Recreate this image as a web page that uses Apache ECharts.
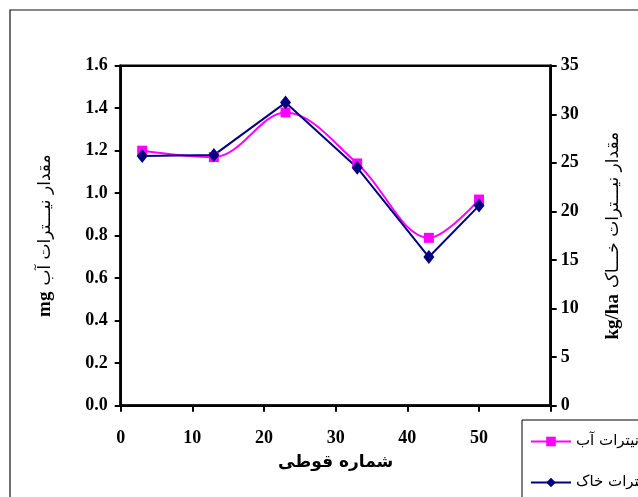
<!DOCTYPE html>
<html><head><meta charset="utf-8">
<script src="https://cdn.jsdelivr.net/npm/echarts@6/dist/echarts.min.js"></script>
<style>html,body{margin:0;padding:0;background:#fff}#c{width:638px;height:497px}</style>
</head><body><div id="c"></div>
<script>
const xValues = [3, 13, 23, 33, 43, 50];
const waterNitrate = [1.20, 1.17, 1.38, 1.14, 0.79, 0.97];
const soilNitrate = [25.7, 25.8, 31.2, 24.5, 15.3, 20.6];
const seriesNames = ['نیترات آب', 'نیترات خاک'];

const chart = echarts.init(document.getElementById('c'));
const serif = '"Liberation Serif", "DejaVu Serif", serif';
const lbl = {fontFamily: serif, fontWeight: 'bold', fontSize: 18, color: '#000'};
const richName = {b: {fontFamily: serif, fontWeight: 'bold', fontSize: 19, color: '#000', padding: [0, 6, 0, 0]}, a: {fontFamily: '"DejaVu Sans", sans-serif', fontSize: 17, color: '#000'}};
chart.setOption({
  animation: false,
  backgroundColor: '#fff',
  graphic: [{type: 'rect', shape: {x: 10, y: 10, width: 700, height: 600}, style: {fill: 'none', stroke: '#111', lineWidth: 1.2}, z: -1}],
  grid: {left: 120.7, right: 87.3, top: 65.7, bottom: 91.3, show: true, borderColor: '#000', borderWidth: 2.5, backgroundColor: '#fff'},
  legend: {
    type: 'plain', orient: 'vertical', left: 522, top: 420, width: 200, height: 120,
    itemWidth: 40, itemHeight: 12, itemGap: 26,
    padding: [14, 10, 10, 8], borderColor: '#000', borderWidth: 1, backgroundColor: '#fff',
    textStyle: {fontFamily: '"DejaVu Sans", sans-serif', fontSize: 15, color: '#000'},
    data: seriesNames
  },
  xAxis: {
    type: 'value', min: 0, max: 60, interval: 10,
    name: 'شماره قوطی', nameLocation: 'middle', nameGap: 48,
    nameTextStyle: {fontFamily: '"DejaVu Sans", sans-serif', fontWeight: 'bold', fontSize: 17, color: '#000'},
    axisLine: {lineStyle: {color: '#000', width: 2.5}},
    axisTick: {inside: false, length: 6, lineStyle: {color: '#000', width: 2}},
    axisLabel: Object.assign({margin: 24, formatter: v => v === 60 ? '' : String(v)}, lbl),
    splitLine: {show: false}
  },
  yAxis: [{
    type: 'value', min: 0, max: 1.6, interval: 0.2, position: 'left',
    name: '{b|mg}{a|مقدار نیـــترات آب}', nameLocation: 'middle', nameGap: 66, nameRotate: 90,
    nameTextStyle: {rich: richName},
    axisLine: {show: true, lineStyle: {color: '#000', width: 2.5}},
    axisTick: {show: true, length: 6, lineStyle: {color: '#000', width: 2}},
    axisLabel: Object.assign({margin: 13, formatter: v => v.toFixed(1)}, lbl),
    splitLine: {show: false}
  }, {
    type: 'value', min: 0, max: 35, interval: 5, position: 'right',
    name: '{b|kg/ha}{a|مقدار نیـــترات خـــاک}', nameLocation: 'middle', nameGap: 53, nameRotate: 90,
    nameTextStyle: {rich: richName},
    axisLine: {show: true, lineStyle: {color: '#000', width: 2.5}},
    axisTick: {show: true, length: 6, lineStyle: {color: '#000', width: 2}},
    axisLabel: Object.assign({margin: 10}, lbl),
    splitLine: {show: false}
  }],
  series: [{
    name: seriesNames[0], type: 'line', yAxisIndex: 0, smooth: 0.35,
    data: xValues.map((x, i) => [x, waterNitrate[i]]),
    symbol: 'rect', symbolSize: 10,
    lineStyle: {color: '#FF00FF', width: 2}, itemStyle: {color: '#FF00FF'}
  }, {
    name: seriesNames[1], type: 'line', yAxisIndex: 1,
    data: xValues.map((x, i) => [x, soilNitrate[i]]),
    symbol: 'diamond', symbolSize: [11, 14],
    lineStyle: {color: '#000080', width: 2}, itemStyle: {color: '#000080'}
  }]
});
</script></body></html>
